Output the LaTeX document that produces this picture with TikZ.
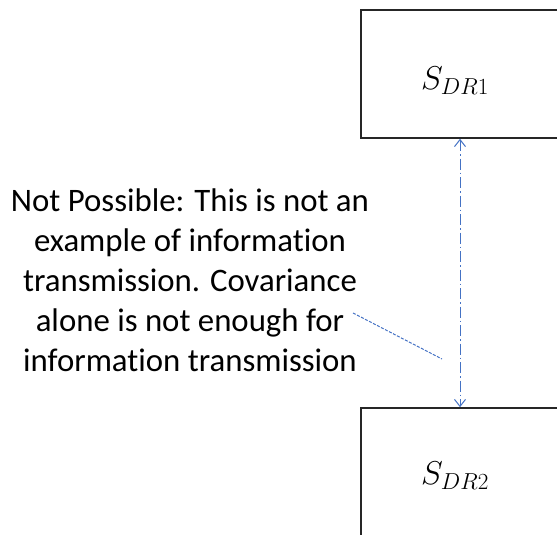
\documentclass[tikz,border=0pt]{standalone}
\usepackage{fix-cm}
\usepackage{fontspec}
\setmainfont{Carlito}[Ligatures=NoCommon]
\usetikzlibrary{arrows.meta}
\definecolor{lineblue}{HTML}{4472C4}
\definecolor{boxgray}{HTML}{262626}
\tikzset{
  box/.style={draw=boxgray, line width=1.6pt, rectangle, inner sep=0pt, minimum width=#1},
  conn/.style={draw=lineblue, line width=1pt, dash pattern=on 11pt off 3pt on 1.5pt off 3pt,
    {Straight Barb[length=7pt,width=11pt,line width=1pt]}-{Straight Barb[length=7pt,width=11pt,line width=1pt]}},
  leader/.style={draw=lineblue, line width=1pt, dash pattern=on 3pt off 1.5pt},
  lbl/.style={inner sep=0pt, font=\fontsize{33}{40}\selectfont},
  note/.style={inner sep=0pt, align=center, font=\fontsize{32.8}{40}\selectfont}
}
\begin{document}
\begin{tikzpicture}[x=1pt,y=-1pt]
\useasboundingbox (0,0) rectangle (557,535);
\clip (0,0) rectangle (557,535);
\node[box=209pt, minimum height=128pt] (box1) at (465.5,74) {};
\node[box=209pt, minimum height=160pt] (box2) at (465.5,488) {};
\node[lbl] (l1) at (455,81) {$S_{DR1}$};
\node[lbl] (l2) at (455,476) {$S_{DR2}$};
\coordinate (ax) at (460,0);
\draw[conn] (box1.south -| ax) -- (box2.north -| ax);
\node[note] (txt) at (190,280) {Not Possible: This is not an\\example of information\\transmission. Covariance\\alone is not enough for\\information transmission};
\coordinate (lend) at (442,359);
\coordinate (lstart) at (353,313);
\draw[leader] (lstart) -- (lend);
\end{tikzpicture}
\end{document}
